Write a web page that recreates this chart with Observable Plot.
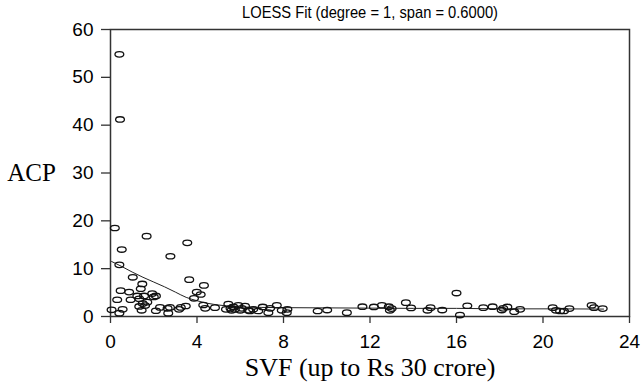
<!DOCTYPE html>
<html>
<head>
<meta charset="utf-8">
<script src="https://cdn.jsdelivr.net/npm/d3@7"></script>
<script src="https://cdn.jsdelivr.net/npm/@observablehq/plot@0.6"></script>
<style>
  html, body { margin: 0; padding: 0; background: #fff; }
  #chart svg { display: block; }
</style>
</head>
<body>
<div id="chart"></div>
<script>
const titleText = "LOESS Fit (degree = 1, span = 0.6000)";
const xLabel = "SVF (up to Rs 30 crore)";
const yLabel = "ACP";
const xTicks = [0, 4, 8, 12, 16, 20, 24];
const yTicks = [0, 10, 20, 30, 40, 50, 60];

const svf = [0.41, 0.44, 0.2, 1.67, 3.55, 0.52, 2.77, 0.41, 1.03, 3.64, 1.47, 4.32, 1.4, 0.47, 0.86, 1.93, 1.24, 1.55, 2.1, 3.99,
  3.86, 4.17, 0.31, 0.93, 1.33, 1.49, 1.7, 1.6, 1.33, 2.0, 0.05, 0.41, 0.56, 1.44, 2.1, 2.29, 2.64, 2.75, 2.67, 3.17,
  3.25, 3.48, 4.29, 4.38, 4.83, 5.45, 5.34, 5.6, 5.68, 5.91, 6.07, 6.22, 6.37, 6.6, 6.83, 7.04, 7.3, 7.38, 7.69, 7.92,
  8.15, 8.18, 5.55, 5.75, 6.0, 6.45, 9.58, 10.02, 10.93, 11.65, 12.18, 12.55, 12.87, 12.92, 13.0, 13.66, 13.9, 14.66, 14.8, 15.34,
  16.0, 16.16, 16.5, 17.24, 17.67, 18.09, 18.16, 18.35, 18.67, 18.94, 20.45, 20.6, 20.79, 20.97, 21.22, 22.25, 22.36, 22.76];
const acp = [54.8, 41.2, 18.5, 16.8, 15.4, 14.0, 12.6, 10.8, 8.2, 7.7, 6.8, 6.5, 5.8, 5.4, 5.1, 4.8, 4.3, 4.3, 4.3, 5.1,
  3.8, 4.6, 3.5, 3.5, 3.7, 2.7, 3.0, 2.3, 2.1, 4.1, 1.4, 0.7, 1.5, 1.3, 1.2, 1.9, 1.7, 1.9, 0.7, 1.5,
  1.9, 2.2, 2.4, 1.7, 1.85, 2.6, 1.5, 1.3, 2.0, 2.35, 1.7, 2.2, 1.3, 1.5, 1.15, 2.0, 0.8, 1.7, 2.35, 1.3,
  0.8, 1.5, 1.7, 1.5, 1.3, 1.15, 1.15, 1.35, 0.8, 2.05, 2.0, 2.35, 2.05, 1.3, 1.65, 2.9, 1.8, 1.3, 1.85, 1.35,
  4.9, 0.3, 2.25, 1.85, 2.05, 1.35, 1.7, 2.0, 1.0, 1.5, 1.85, 1.3, 1.15, 1.15, 1.65, 2.35, 1.85, 1.65];

const loessX = [0.05, 0.5, 1, 1.5, 2, 2.5, 3, 3.5, 4, 4.5, 5, 5.5, 6, 7, 8, 10, 12, 14, 16, 18, 20, 22.8];
const loessY = [11.5, 10.5, 9.3, 8.2, 7.2, 6.2, 5.1, 4.0, 3.3, 2.75, 2.4, 2.15, 2.0, 1.9, 1.85, 1.8, 1.75, 1.7, 1.7, 1.6, 1.6, 1.55];

const points = svf.map((x, i) => ({x, y: acp[i]}));
const fit = loessX.map((x, i) => ({x, y: loessY[i]}));

const ellipse = {
  draw(ctx) {
    const rx = 4.4, ry = 2.7, k = 0.5523;
    ctx.moveTo(rx, 0);
    ctx.bezierCurveTo(rx, ry * k, rx * k, ry, 0, ry);
    ctx.bezierCurveTo(-rx * k, ry, -rx, ry * k, -rx, 0);
    ctx.bezierCurveTo(-rx, -ry * k, -rx * k, -ry, 0, -ry);
    ctx.bezierCurveTo(rx * k, -ry, rx, -ry * k, rx, 0);
    ctx.closePath();
  }
};

const sans = "'Liberation Sans', Arial, Helvetica, sans-serif";
const serif = "'Liberation Serif', 'Times New Roman', serif";

const chart = Plot.plot({
  width: 641,
  height: 386,
  marginLeft: 110,
  marginRight: 12,
  marginTop: 29,
  marginBottom: 70,
  style: {fontFamily: sans, fontSize: "19px", color: "#000", background: "#fff", overflow: "visible"},
  x: {domain: [0, 24], ticks: xTicks, label: null},
  y: {domain: [0, 60], ticks: yTicks, label: null},
  marks: [
    Plot.frame({stroke: "#333", strokeWidth: 1.5}),
    Plot.axisX({ticks: xTicks, tickSize: 7, tickPadding: 11, stroke: "#333", strokeWidth: 1.3, fontSize: 19, label: null}),
    Plot.axisY({ticks: yTicks, tickSize: 9, tickPadding: 8, stroke: "#333", strokeWidth: 1.3, fontSize: 19, label: null}),
    Plot.line(fit, {x: "x", y: "y", stroke: "#222", strokeWidth: 1, curve: "monotone-x"}),
    Plot.dot(points, {x: "x", y: "y", symbol: ellipse, stroke: "#111", strokeWidth: 1.3, fill: "none"}),
    Plot.text([titleText], {frameAnchor: "top", dy: -17, fontSize: 16.5, fontFamily: sans, fill: "#000", lineAnchor: "middle", className: "chart-title"}),
    Plot.text([xLabel], {frameAnchor: "bottom", dy: 51, fontSize: 26, fontFamily: serif, fill: "#000", lineAnchor: "middle"}),
    Plot.text([yLabel], {frameAnchor: "left", dx: -79, textAnchor: "middle", fontSize: 25, fontFamily: serif, fill: "#000", lineAnchor: "middle"})
  ]
});
const t = chart.querySelector(".chart-title text");
if (t) { t.setAttribute("textLength", "256"); t.setAttribute("lengthAdjust", "spacingAndGlyphs"); }
document.getElementById("chart").appendChild(chart);
</script>
</body>
</html>
